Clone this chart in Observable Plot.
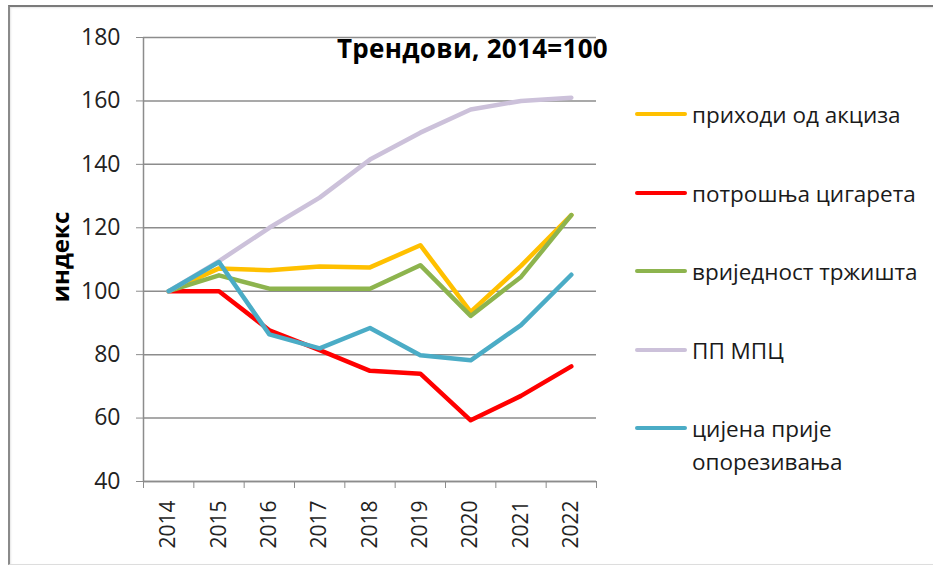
<!DOCTYPE html>
<html>
<head>
<meta charset="utf-8">
<script src="https://cdn.jsdelivr.net/npm/d3@7"></script>
<script src="https://cdn.jsdelivr.net/npm/@observablehq/plot@0.6"></script>
<style>
  html, body { margin: 0; padding: 0; background: #fff; }
  #wrap { position: relative; width: 933px; height: 566px; overflow: hidden; font-family: "Open Sans", sans-serif; }
  #frame { position: absolute; left: 8px; top: 5px; width: 1000px; height: 557px; border-left: 2px solid #8a8a8a; border-top: 2px solid #7a7a7a; border-bottom: 1px solid #ddd; box-shadow: inset 1px 1px 2px #e6e6e6; }
  #chart { position: absolute; left: 0; top: 0; }
  #title { position: absolute; left: 337px; top: 48px; transform: translateY(-50%); font-size: 26px; letter-spacing: 0.3px; font-weight: bold; color: #000; white-space: nowrap; }
  #ylab { position: absolute; left: 59px; top: 257px; transform: translate(-50%,-50%) rotate(-90deg); font-size: 24px; font-weight: bold; color: #000; white-space: nowrap; }
  .leg { position: absolute; left: 635px; display: flex; align-items: flex-start; font-size: 22.5px; color: #1a1a1a; line-height: 33px; }
  .leg .sw { width: 52px; height: 4px; border-radius: 2px; margin-top: 14.5px; margin-right: 5px; flex: none; }
</style>
</head>
<body>
<div id="wrap">
  <div id="frame"></div>
  <div id="chart"></div>
  <div id="title"></div>
  <div id="ylab"></div>
  <div id="legend"></div>
</div>
<script>
const years = [2014, 2015, 2016, 2017, 2018, 2019, 2020, 2021, 2022];
const akcize     = [100, 107.2, 106.6, 107.8, 107.5, 114.5, 93.5, 108.0, 124.0];
const potrosnja  = [100, 100.0, 87.7, 81.4, 74.9, 74.0, 59.3, 67.0, 76.3];
const vrijednost = [100, 105.0, 100.8, 100.8, 100.8, 108.2, 92.2, 104.5, 124.0];
const ppmpc      = [100, 109.5, 120.0, 129.5, 141.5, 150.0, 157.3, 160.0, 161.0];
const cijena     = [100, 109.2, 86.4, 82.0, 88.4, 79.8, 78.2, 89.3, 105.2];
const seriesNames = ["приходи од акциза", "потрошња цигарета", "вриједност тржишта", "ПП МПЦ", "цијена прије опорезивања"];
const seriesColors = ["#FFC000", "#FF0000", "#8DB44E", "#CCC1DA", "#4BACC6"];
const seriesValues = [akcize, potrosnja, vrijednost, ppmpc, cijena];
const yTicks = [40, 60, 80, 100, 120, 140, 160, 180];
const titleText = "Трендови, 2014=100";
const yLabel = "индекс";

const data = [];
seriesNames.forEach((name, i) => years.forEach((yr, j) => data.push({series: name, year: yr, value: seriesValues[i][j]})));
const bounds = years.map(y => y - 0.5).concat([years[years.length - 1] + 0.5]);

const chart = Plot.plot({
  width: 933,
  height: 566,
  marginLeft: 143,
  marginRight: 337,
  marginTop: 37,
  marginBottom: 85,
  style: { fontFamily: "Open Sans, sans-serif", background: "transparent" },
  x: { type: "linear", domain: [bounds[0], bounds[bounds.length - 1]], label: null },
  y: { domain: [40, 180], label: null },
  color: { domain: seriesNames, range: seriesColors },
  marks: [
    Plot.gridY(yTicks, { stroke: "#8c8c8c", strokeOpacity: 1, strokeWidth: 1.5 }),
    Plot.ruleX([bounds[0]], { y1: 40, y2: 180, stroke: "#8c8c8c", strokeWidth: 1.5 }),
    Plot.ruleY([40], { stroke: "#8c8c8c", strokeWidth: 1.5 }),
    Plot.axisY(yTicks, { tickSize: 7, tickPadding: 16, fontSize: 23, stroke: "#8c8c8c", fill: "#222", label: null }),
    Plot.axisX(bounds, { tickSize: 7, tickFormat: () => "", stroke: "#8c8c8c", label: null }),
    Plot.axisX(years, { tickSize: 0, tickPadding: 19, tickRotate: -90, fontSize: 21, fill: "#222", tickFormat: d => String(d), label: null }),
    Plot.line(data, { x: "year", y: "value", z: "series", stroke: "series", strokeWidth: 4.5, strokeLinejoin: "round", strokeLinecap: "round" })
  ]
});
document.getElementById("chart").appendChild(chart);
document.getElementById("title").textContent = titleText;
document.getElementById("ylab").textContent = yLabel;

const legendCenters = [114, 193, 271, 350, 428];
const legend = document.getElementById("legend");
seriesNames.forEach((name, i) => {
  const row = document.createElement("div");
  row.className = "leg";
  row.style.top = (legendCenters[i] - 16.5) + "px";
  const sw = document.createElement("div");
  sw.className = "sw";
  sw.style.background = seriesColors[i];
  const tx = document.createElement("div");
  if (i === 4) { tx.innerHTML = "цијена прије<br>опорезивања"; } else { tx.textContent = name; }
  row.appendChild(sw); row.appendChild(tx);
  legend.appendChild(row);
});
</script>
</body>
</html>
